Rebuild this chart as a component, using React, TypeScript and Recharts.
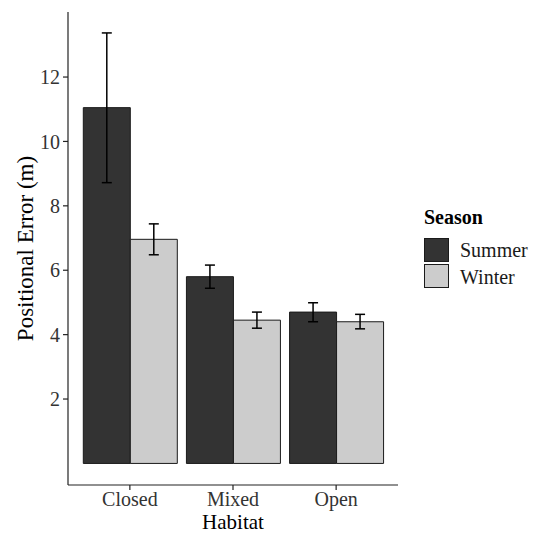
import React from "react";
import { Bar, BarChart, ErrorBar, Label, Legend, XAxis, YAxis } from "recharts";

const habitats = ["Closed", "Mixed", "Open"];
const summerMean = [11.05, 5.8, 4.7];
const summerLow = [8.72, 5.44, 4.4];
const summerHigh = [13.37, 6.16, 4.99];
const winterMean = [6.96, 4.45, 4.4];
const winterLow = [6.48, 4.2, 4.18];
const winterHigh = [7.44, 4.7, 4.63];
const yTicks = [2, 4, 6, 8, 10, 12];

const FONT = "'Liberation Serif', 'Times New Roman', serif";
const INK = "#1a1a1a";

const data = habitats.map((habitat, i) => ({
  habitat,
  Summer: summerMean[i],
  summerErr: [summerMean[i] - summerLow[i], summerHigh[i] - summerMean[i]],
  Winter: winterMean[i],
  winterErr: [winterMean[i] - winterLow[i], winterHigh[i] - winterMean[i]],
}));

const SeasonLegend = ({ payload }: any) => (
  <svg width={121} height={100} style={{ fontFamily: FONT }}>
    <text x={12} y={24} fontSize={20} fontWeight="bold" fill="#000">
      Season
    </text>
    {(payload || []).map((item: any, i: number) => (
      <g key={item.value}>
        <rect
          x={12.5}
          y={38.5 + i * 26}
          width={24}
          height={23}
          fill={item.color}
          stroke={INK}
          strokeWidth={1}
        />
        <text x={48} y={57 + i * 26.5} fontSize={20} fill="#1a1a1a">
          {item.value}
        </text>
      </g>
    ))}
  </svg>
);

const App = () => {
  return (
    <div style={{ position: "absolute", left: 0, top: 0 }}>
      <BarChart
        width={533}
        height={533}
        data={data}
        margin={{ top: 12, right: 135, bottom: 18, left: 28 }}
        barCategoryGap={5}
        barGap={0}
        style={{ fontFamily: FONT }}
      >
        <XAxis
          dataKey="habitat"
          padding={{ left: 10.3, right: 10.3 }}
          height={30}
          tickSize={5}
          tickMargin={2}
          stroke="#222"
          strokeWidth={1.2}
          tick={{ fontSize: 20, fill: "#333" }}
        >
          <Label
            content={({ viewBox }: any) => (
              <text
                x={viewBox.x + viewBox.width / 2}
                y={viewBox.y + 44}
                textAnchor="middle"
                fontSize={21}
                fill="#000"
                fontFamily={FONT}
              >
                Habitat
              </text>
            )}
          />
        </XAxis>
        <YAxis
          type="number"
          domain={[-0.67, 14.02]}
          allowDataOverflow
          ticks={yTicks}
          width={40}
          tickSize={5}
          tickMargin={3}
          stroke="#222"
          strokeWidth={1.2}
          tick={{ fontSize: 20, fill: "#333" }}
        >
          <Label
            content={({ viewBox }: any) => {
              const cx = viewBox.x + 5;
              const cy = viewBox.y + viewBox.height / 2;
              return (
                <text
                  x={cx}
                  y={cy}
                  transform={`rotate(-90, ${cx}, ${cy})`}
                  textAnchor="middle"
                  fontSize={23}
                  fill="#000"
                  fontFamily={FONT}
                >
                  Positional Error (m)
                </text>
              );
            }}
          />
        </YAxis>
        <Legend
          layout="vertical"
          align="center"
          verticalAlign="middle"
          wrapperStyle={{ left: 412, top: 200, width: 121 }}
          content={<SeasonLegend />}
        />
        <Bar
          dataKey="Summer"
          fill="#333333"
          stroke={INK}
          strokeWidth={1}
          isAnimationActive={false}
        >
          <ErrorBar
            dataKey="summerErr"
            direction="y"
            width={5}
            stroke="#000"
            strokeWidth={1.5}
          />
        </Bar>
        <Bar
          dataKey="Winter"
          fill="#cccccc"
          stroke={INK}
          strokeWidth={1}
          isAnimationActive={false}
        >
          <ErrorBar
            dataKey="winterErr"
            direction="y"
            width={5}
            stroke="#000"
            strokeWidth={1.5}
          />
        </Bar>
      </BarChart>
    </div>
  );
};

export default App;
